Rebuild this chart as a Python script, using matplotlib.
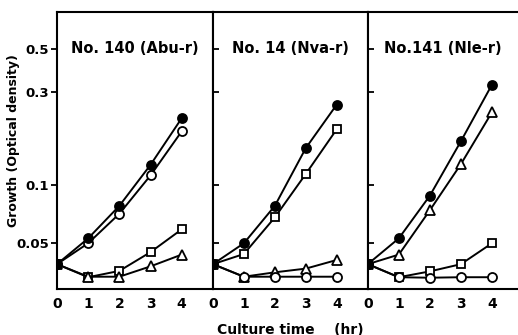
import matplotlib.pyplot as plt

plt.rcParams['font.family'] = 'DejaVu Sans'
plt.rcParams['font.weight'] = 'bold'

hours = [0, 1, 2, 3, 4]
titles = ['No. 140 (Abu-r)', 'No. 14 (Nva-r)', 'No.141 (Nle-r)']
ytick_vals = [0.05, 0.1, 0.3, 0.5]
ytick_labels = ['0.05', '0.1', '0.3', '0.5']

# per panel: filled circle, open circle, square, triangle
filled = [
    [0.039, 0.053, 0.078, 0.127, 0.221],
    [0.039, 0.050, 0.078, 0.155, 0.260],
    [0.039, 0.053, 0.088, 0.168, 0.329],
]
open_circ = [
    [0.039, 0.050, 0.071, 0.112, 0.189],
    [0.039, 0.0336, 0.0336, 0.0336, 0.0336],
    [0.039, 0.0334, 0.0332, 0.0334, 0.0334],
]
square = [
    [0.039, 0.0334, 0.036, 0.045, 0.059],
    [0.039, 0.044, 0.068, 0.114, 0.194],
    [0.039, 0.0334, 0.0358, 0.039, 0.050],
]
triangle = [
    [0.039, 0.0336, 0.0336, 0.038, 0.0437],
    [0.039, 0.0336, 0.0354, 0.037, 0.041],
    [0.039, 0.0437, 0.074, 0.128, 0.237],
]

fig = plt.figure(figsize=(5.18, 3.35), dpi=100)
lefts = [0.110, 0.411, 0.710]
widths = [0.301, 0.299, 0.290]
xmax = [5, 5, 4.84]

for i in range(3):
    ax = fig.add_axes([lefts[i], 0.137, widths[i], 0.827])
    kw = dict(color='black', lw=1.4, mew=1.3)
    ax.plot(hours, square[i], marker='s', mfc='white', ms=5.5, **kw)
    ax.plot(hours, triangle[i], marker='^', mfc='white', ms=6.5, **kw)
    ax.plot(hours, open_circ[i], marker='o', mfc='white', ms=6.5, **kw)
    ax.plot(hours, filled[i], marker='o', mfc='black', ms=6.5, **kw)
    ax.set_yscale('log')
    ax.set_ylim(0.029, 0.78)
    ax.set_xlim(0, xmax[i])
    ax.set_xticks(hours)
    ax.set_xticklabels([str(h) for h in hours], fontsize=10, fontweight='bold')
    ax.tick_params(axis='x', length=0, pad=6)
    ax.minorticks_off()
    ax.set_yticks(ytick_vals)
    if i == 0:
        ax.set_yticklabels(ytick_labels, fontsize=9.5, fontweight='bold')
        ax.tick_params(axis='y', direction='out', length=4, width=1.3, pad=2)
    else:
        ax.set_yticklabels([])
        ax.tick_params(axis='y', direction='in', length=4, width=1.3)
    ax.text(0.5, 0.87, titles[i], transform=ax.transAxes, ha='center', va='center',
            fontsize=10.5, fontweight='bold')
    for s in ax.spines.values():
        s.set_linewidth(1.5)
    if i == 2:
        ax.spines['right'].set_visible(False)
    if i == 1:
        ax.set_xlabel('Culture time    (hr)', fontsize=10, fontweight='bold', labelpad=8)

fig.text(0.026, 0.58, 'Growth (Optical density)', rotation=90, ha='center', va='center',
         fontsize=9, fontweight='bold')

fig.savefig('out.png', dpi=100)
